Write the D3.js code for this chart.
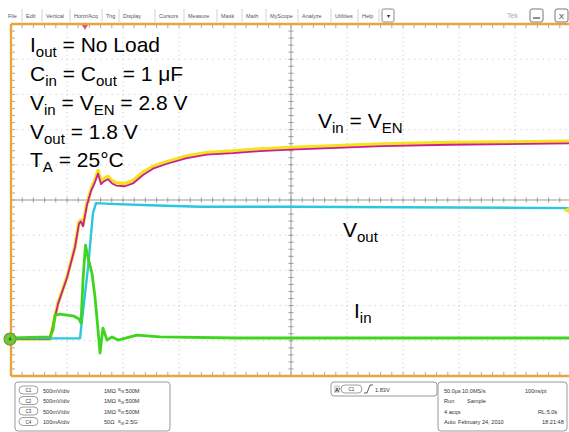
<!DOCTYPE html>
<html><head><meta charset="utf-8">
<script src="https://cdn.jsdelivr.net/npm/d3@7"></script>
<style>body{margin:0;background:#fff;} svg{display:block;font-family:"Liberation Sans",Arial,Helvetica,sans-serif;}</style>
</head><body><svg id="c" width="569" height="432"></svg>
<script>
// ---- data (time in µs, voltages in V, current in mA) ----
const vinTime   = [0, 34.8, 42, 50, 57.1, 60.7, 62.5, 64.3, 67.9, 71.4, 75, 77.7, 80.4, 83, 86.6, 90.2, 93.8, 101.8, 108.9, 117.9, 126.8, 139.3, 157.1, 175, 198.2, 222.3, 250, 332, 392, 500];
const vinVolts  = [0, 0, 0.51, 0.88, 1.31, 1.66, 1.69, 1.62, 1.93, 2.12, 2.26, 2.39, 2.24, 2.28, 2.31, 2.25, 2.22, 2.21, 2.25, 2.37, 2.45, 2.52, 2.60, 2.65, 2.67, 2.70, 2.72, 2.77, 2.79, 2.81];
const venVolts  = [0, 0, 0.50, 0.87, 1.30, 1.64, 1.67, 1.60, 1.91, 2.10, 2.23, 2.35, 2.20, 2.24, 2.27, 2.21, 2.18, 2.17, 2.21, 2.33, 2.42, 2.49, 2.57, 2.62, 2.64, 2.67, 2.69, 2.74, 2.76, 2.78];
const voutTime  = [0, 61.6, 63.4, 68.8, 73.2, 75.9, 88.4, 124, 168.8, 250, 500];
const voutVolts = [0.01, 0.01, 0.27, 1.02, 1.79, 1.93, 1.92, 1.90, 1.88, 1.88, 1.86];
const iinTime   = [0, 34.8, 37.5, 39.3, 43.8, 50, 56.3, 60.7, 62.5, 64.3, 66.5, 68.8, 72.3, 75, 77.7, 79.5, 82.1, 85.7, 90.2, 95.5, 112.5, 133, 200, 300, 400, 500];
const iinMilliA = [3, 6, 26, 68, 71, 68, 65, 57, 45, 168, 267, 230, 187, 119, 26, -40, 31, -3, 6, -3, 11, 6, 3, 3, 3, 3];
const triggerLevel = 1.83;
const annotations = [
  {parts:[["I",0],["out",1],[" = No Load",0]]},
  {parts:[["C",0],["in",1],[" = C",0],["out",1],[" = 1 μF",0]]},
  {parts:[["V",0],["in",1],[" = V",0],["EN",1],[" = 2.8 V",0]]},
  {parts:[["V",0],["out",1],[" = 1.8 V",0]]},
  {parts:[["T",0],["A",1],[" = 25°C",0]]}
];
const menuItems = ["File","Edit","Vertical","Horiz/Acq","Trig","Display","Cursors","Measure","Mask","Math","MyScope","Analyze","Utilities","Help"];
const chanRows = [["C1","500mV/div","1MΩ","500M"],["C2","500mV/div","1MΩ","500M"],["C3","500mV/div","1MΩ","500M"],["C4","100mA/div","50Ω","2.5G"]];
const acqRows = [["50.0µs","10.0MS/s","100ns/pt"],["Run","Sample",""],["4 acqs","","RL:5.0k"],["Auto","February 24, 2010","18:21:48"]];

// ---- scales ----
const x = d3.scaleLinear().domain([0,500]).range([11,571]);
const y = d3.scaleLinear().domain([-5,5]).range([376,24]);
const groundDiv = -3.95;
const vDiv = v => v/0.5 + groundDiv;
const iDiv = i => i/100 + groundDiv;

const svg = d3.select("#c");

// ---- menu bar ----
const menuX = [8,26,46,74,106,123,159,188,221,246,270,302,335,362];
const mb = svg.append("g").attr("font-size",5.5).attr("fill","#555");
menuItems.forEach((m,i)=>{
  mb.append("text").attr("x",menuX[i]).attr("y",17.5).text(m);
  const sx = (i<menuItems.length-1? menuX[i+1]-4 : 379);
  mb.append("line").attr("x1",sx).attr("x2",sx).attr("y1",9).attr("y2",22).attr("stroke","#c8c8c8").attr("stroke-width",0.8);
});
mb.append("rect").attr("x",382).attr("y",9).attr("width",12).attr("height",13).attr("rx",1.5).attr("fill","#fff").attr("stroke","#888");
mb.append("text").attr("x",388).attr("y",18).attr("text-anchor","middle").attr("font-size",6).attr("fill","#222").text("▾");
mb.append("text").attr("x",507).attr("y",17.5).attr("font-size",7).attr("fill","#aaa").text("Tek");
mb.append("rect").attr("x",530).attr("y",9).attr("width",13).attr("height",13).attr("rx",2).attr("fill","#fff").attr("stroke","#777");
mb.append("line").attr("x1",533).attr("x2",540).attr("y1",18).attr("y2",18).attr("stroke","#444").attr("stroke-width",1.2);
mb.append("rect").attr("x",555).attr("y",9).attr("width",13).attr("height",13).attr("rx",2).attr("fill","#fff").attr("stroke","#777");
mb.append("text").attr("x",561.5).attr("y",18.5).attr("text-anchor","middle").attr("font-size",8).attr("fill","#333").text("X");

// ---- graticule ----
const g = svg.append("g");
const xDivs = d3.range(0,501,50), yDivs = d3.range(-5,6,1);
g.selectAll(".gv").data(xDivs.filter(d=>d!==250 && d>0)).join("line")
  .attr("x1",d=>x(d)).attr("x2",d=>x(d)).attr("y1",y(5)).attr("y2",y(-5))
  .attr("stroke","#c4c4c4").attr("stroke-width",1).attr("stroke-dasharray","1,3.4");
g.selectAll(".gh").data(yDivs.filter(d=>d!==0 && Math.abs(d)<5)).join("line")
  .attr("x1",x(0)).attr("x2",x(500)).attr("y1",d=>y(d)).attr("y2",d=>y(d))
  .attr("stroke","#c4c4c4").attr("stroke-width",1).attr("stroke-dasharray","1,4.6");
// center crosshair
g.append("line").attr("x1",x(250)).attr("x2",x(250)).attr("y1",y(5)).attr("y2",y(-5)).attr("stroke","#9a9a9a").attr("stroke-width",1);
g.append("line").attr("x1",x(0)).attr("x2",x(500)).attr("y1",y(0)).attr("y2",y(0)).attr("stroke","#9a9a9a").attr("stroke-width",1);
const minorX = d3.range(0,500.1,10), minorY = d3.range(-5,5.01,0.2);
g.selectAll(".mx").data(minorX).join("line").attr("x1",d=>x(d)).attr("x2",d=>x(d)).attr("y1",y(0)-2.5).attr("y2",y(0)+2.5).attr("stroke","#9a9a9a");
g.selectAll(".my").data(minorY).join("line").attr("y1",d=>y(d)).attr("y2",d=>y(d)).attr("x1",x(250)-2.5).attr("x2",x(250)+2.5).attr("stroke","#9a9a9a");
// edge ticks
g.selectAll(".bx").data(minorX).join("line").attr("x1",d=>x(d)).attr("x2",d=>x(d)).attr("y1",y(-5)-4).attr("y2",y(-5)).attr("stroke","#aaa");
g.selectAll(".tx").data(minorX).join("line").attr("x1",d=>x(d)).attr("x2",d=>x(d)).attr("y1",y(5)).attr("y2",y(5)+4).attr("stroke","#aaa");
g.selectAll(".ly").data(minorY).join("line").attr("y1",d=>y(d)).attr("y2",d=>y(d)).attr("x1",x(0)).attr("x2",x(0)+4).attr("stroke","#aaa");

// ---- traces ----
svg.append("defs").append("clipPath").attr("id","clip").append("rect")
  .attr("x",x(0)).attr("y",y(5)).attr("width",x(500)-x(0)).attr("height",y(-5)-y(5));
const tr = svg.append("g").attr("clip-path","url(#clip)");
const line = d3.line().x(d=>x(d[0])).y(d=>y(d[1]));
tr.append("path").datum(vinTime.map((t,i)=>[t,vDiv(vinVolts[i])])).attr("d",line)
  .attr("fill","none").attr("stroke","#f3e21c").attr("stroke-width",3.6).attr("stroke-linejoin","round");
tr.append("path").datum(vinTime.map((t,i)=>[t,vDiv(venVolts[i])])).attr("d",line)
  .attr("fill","none").attr("stroke","#c81e9c").attr("stroke-width",1.8).attr("stroke-linejoin","round");
tr.append("path").datum(voutTime.map((t,i)=>[t,vDiv(voutVolts[i])])).attr("d",line)
  .attr("fill","none").attr("stroke","#2cc6df").attr("stroke-width",2.4).attr("stroke-linejoin","round");
tr.append("path").datum(iinTime.map((t,i)=>[t,iDiv(iinMilliA[i])])).attr("d",line)
  .attr("fill","none").attr("stroke","#3fd51e").attr("stroke-width",2.8).attr("stroke-linejoin","round");

// ---- frame ----
const fr = svg.append("g").attr("stroke","#e8a53c").attr("stroke-width",2.4).attr("fill","none");
fr.append("line").attr("x1",x(0)).attr("x2",575).attr("y1",y(5)).attr("y2",y(5));
fr.append("line").attr("x1",x(0)).attr("x2",575).attr("y1",y(-5)).attr("y2",y(-5));
fr.append("line").attr("x1",x(0)).attr("x2",x(0)).attr("y1",y(5)).attr("y2",y(-5));
// trigger position marker
svg.append("path").attr("d",`M${x(66)-3},${y(5)+1} L${x(66)+3},${y(5)+1} L${x(66)},${y(5)+6} Z`).attr("fill","#e05a6a");
// trigger level marker (C1)
svg.append("path").attr("d",`M${x(500)-2},${y(vDiv(triggerLevel))-3} L${x(500)-2},${y(vDiv(triggerLevel))+3} L${x(500)-8},${y(vDiv(triggerLevel))} Z`).attr("fill","#f3e21c");
// ground marker C4
svg.append("circle").attr("cx",x(0)-1).attr("cy",y(iDiv(0))).attr("r",6).attr("fill","#6cc93a").attr("stroke","#7b9a2a").attr("stroke-width",1.2);
svg.append("text").attr("x",x(0)-1).attr("y",y(iDiv(0))+2).attr("text-anchor","middle").attr("font-size",5).attr("fill","#123").text("4");

// ---- annotations ----
const an = svg.append("g").attr("fill","#000").attr("font-size",21);
const baselines = [52,81,110,139,167];
annotations.forEach((a,i)=>{
  const t = an.append("text").attr("x",30).attr("y",baselines[i]);
  a.parts.forEach(p=>{
    const s = t.append("tspan").text(p[0]);
    if(p[1]) s.attr("font-size",15).attr("dy",5); 
    else s.attr("dy", 0);
  });
  // reset dy for non-subscript following subscript
  let prevSub=false;
  t.selectAll("tspan").each(function(d,j){
    const sub = a.parts[j][1]===1;
    d3.select(this).attr("dy", sub ? (prevSub?0:5) : (prevSub?-5:0));
    prevSub = sub;
  });
});
function label(xp,yp,parts){
  const t = an.append("text").attr("x",xp).attr("y",yp);
  let prevSub=false;
  parts.forEach(p=>{
    const sub = p[1]===1;
    const s=t.append("tspan").text(p[0]).attr("dy", sub ? (prevSub?0:5) : (prevSub?-5:0));
    if(sub) s.attr("font-size",15);
    prevSub=sub;
  });
}
label(318,128,[["V",0],["in",1],[" = V",0],["EN",1]]);
label(343,237,[["V",0],["out",1]]);
label(354,318,[["I",0],["in",1]]);

// ---- bottom status panels ----
const bp = svg.append("g").attr("font-size",5.6).attr("fill","#333");
bp.append("rect").attr("x",15).attr("y",382).attr("width",155).attr("height",49).attr("rx",3).attr("fill","#fff").attr("stroke","#999");
const rowY = [390.5,401,411.5,422];
chanRows.forEach((r,i)=>{
  bp.append("rect").attr("x",19).attr("y",rowY[i]-4.5).attr("width",19).attr("height",8).attr("rx",4).attr("fill","#fff").attr("stroke","#888").attr("stroke-width",0.8);
  bp.append("text").attr("x",28.5).attr("y",rowY[i]+1.8).attr("text-anchor","middle").attr("font-size",4.5).text(r[0]);
  bp.append("text").attr("x",43).attr("y",rowY[i]+2).text(r[1]);
  bp.append("text").attr("x",104).attr("y",rowY[i]+2).text(r[2]);
  const bw = bp.append("text").attr("x",118).attr("y",rowY[i]+2);
  bw.append("tspan").attr("font-size",4).attr("dy",-1.5).text("B");
  bw.append("tspan").attr("font-size",3.5).attr("dy",2).text("W");
  bw.append("tspan").attr("dy",-0.5).text(":"+r[3]);
});
bp.append("rect").attr("x",331).attr("y",382).attr("width",106).attr("height",14).attr("rx",3).attr("fill","#fff").attr("stroke","#999");
bp.append("rect").attr("x",334).attr("y",385).attr("width",6).attr("height",8).attr("fill","#ddd");
bp.append("text").attr("x",335).attr("y",391.5).attr("font-size",5.5).attr("font-weight","bold").text("A'");
bp.append("rect").attr("x",341).attr("y",385).attr("width",21).attr("height",8).attr("rx",4).attr("fill","#fff").attr("stroke","#888").attr("stroke-width",0.8);
bp.append("text").attr("x",351.5).attr("y",391).attr("text-anchor","middle").attr("font-size",4.5).text("C1");
bp.append("path").attr("d","M364,393 L367,393 L370,385 L373,385").attr("fill","none").attr("stroke","#333").attr("stroke-width",0.8);
bp.append("text").attr("x",375).attr("y",391.5).text(triggerLevel.toFixed(2)+"V");
bp.append("rect").attr("x",438).attr("y",382).attr("width",129).attr("height",49).attr("rx",3).attr("fill","#fff").attr("stroke","#999");
const acqX = [[444,462,525],[444,467,0],[444,0,538],[444,458,542]];
acqRows.forEach((r,i)=>{
  r.forEach((s,j)=>{ if(s) bp.append("text").attr("x",acqX[i][j]).attr("y",rowY[i]+2).text(s); });
});
</script></body></html>
